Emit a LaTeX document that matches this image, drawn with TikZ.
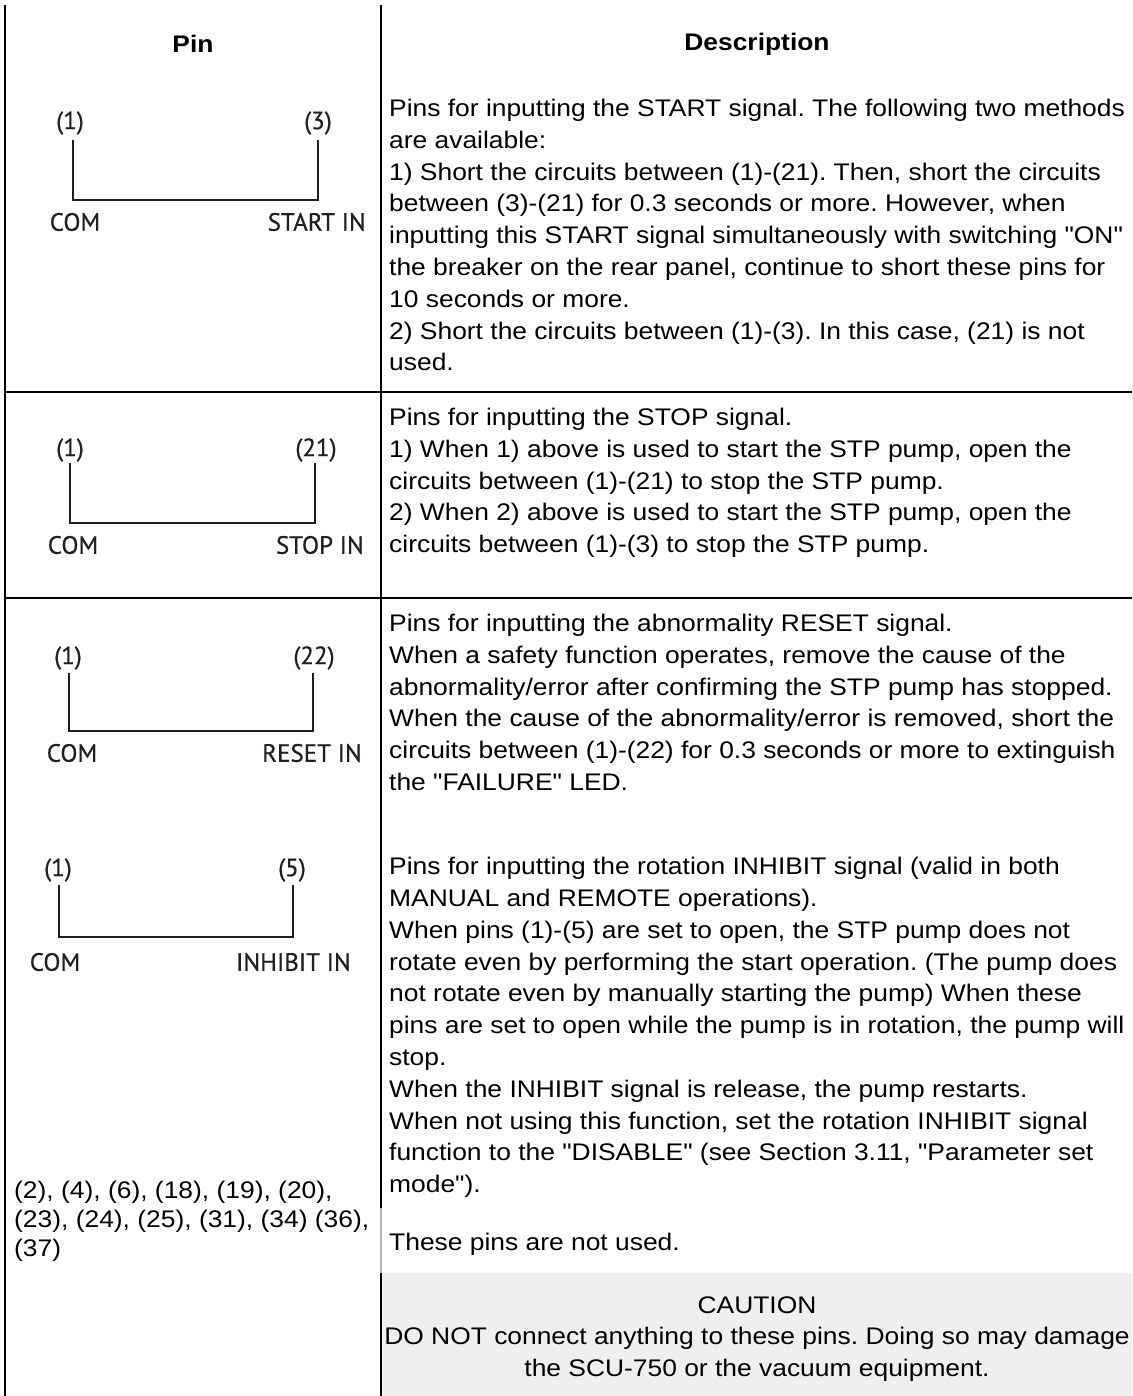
\documentclass[tikz,border=0pt]{standalone}
\usepackage{fontspec}
\setmainfont{Liberation Sans}
\newfontfamily\descfont[FakeStretch=1.1]{Liberation Sans}
\newfontfamily\pinfont[FakeBold=0.6]{PT Sans}
\definecolor{cautionbg}{HTML}{EFEFEF}
\definecolor{ink}{HTML}{231F20}
\frenchspacing
\begin{document}
\begin{tikzpicture}[x=1pt,y=-1pt,
  grid/.style={line width=1.3pt, black},
  wire/.style={line width=2.6pt, ink, line join=miter},
  desc/.style={anchor=north west, inner sep=0pt, align=left, font=\descfont\fontsize{24}{31.8}\selectfont},
  pinlist/.style={anchor=north west, inner sep=0pt, align=left, font=\descfont\fontsize{24}{29}\selectfont},
  head/.style={inner sep=0pt, font=\descfont\bfseries\fontsize{24}{31.8}\selectfont},
  pinlbl/.style={inner sep=0pt, font=\pinfont\fontsize{25}{28}\selectfont, text=ink},
]
\useasboundingbox (0,0) rectangle (1132,1396);
\fill[white] (0,0) rectangle (1132,1396);
\fill[cautionbg] (382,1273) rectangle (1132,1396);

% table rules
\draw[grid] (5,5) -- (5,1396);
\draw[grid] (381,5) -- (381,1208);
\draw[grid, gray!60] (381,1208) -- (381,1273);
\draw[grid] (381,1273) -- (381,1396);
\draw[grid] (5,392) -- (1132,392);
\draw[grid] (5,598) -- (1132,598);

% headers
\node[head] (hpin) at (193,44) {Pin};
\node[head] (hdesc) at (757,44) {Description};

% START
\node[pinlbl] (s1l) at (70,123) {(1)};
\node[pinlbl] (s1r) at (318,123) {(3)};
\coordinate (s1tl) at (73,140); \coordinate (s1bl) at (73,200);
\coordinate (s1br) at (318,200); \coordinate (s1tr) at (318,140);
\draw[wire] (s1tl) -- (s1bl) -- (s1br) -- (s1tr);
\node[pinlbl] (s1c) at (75,222) {COM};
\node[pinlbl, anchor=east] (s1n) at (366,222) {START IN};
\node[desc] (d1) at (389,99) {Pins for inputting the START signal. The following two methods\\
are available:\\
1) Short the circuits between (1)-(21). Then, short the circuits\\
between (3)-(21) for 0.3 seconds or more. However, when\\
inputting this START signal simultaneously with switching "ON"\\
the breaker on the rear panel, continue to short these pins for\\
10 seconds or more.\\
2) Short the circuits between (1)-(3). In this case, (21) is not\\
used.};

% STOP
\node[pinlbl] (s2l) at (70,450) {(1)};
\node[pinlbl] (s2r) at (316,450) {(21)};
\coordinate (s2tl) at (70,463); \coordinate (s2bl) at (70,523);
\coordinate (s2br) at (315,523); \coordinate (s2tr) at (315,463);
\draw[wire] (s2tl) -- (s2bl) -- (s2br) -- (s2tr);
\node[pinlbl] (s2c) at (73,545) {COM};
\node[pinlbl, anchor=east] (s2n) at (364,545) {STOP IN};
\node[desc] (d2) at (389,408) {Pins for inputting the STOP signal.\\
1) When 1) above is used to start the STP pump, open the\\
circuits between (1)-(21) to stop the STP pump.\\
2) When 2) above is used to start the STP pump, open the\\
circuits between (1)-(3) to stop the STP pump.};

% RESET
\node[pinlbl] (s3l) at (68,658) {(1)};
\node[pinlbl] (s3r) at (314,658) {(22)};
\coordinate (s3tl) at (69,673); \coordinate (s3bl) at (69,731);
\coordinate (s3br) at (313,731); \coordinate (s3tr) at (313,673);
\draw[wire] (s3tl) -- (s3bl) -- (s3br) -- (s3tr);
\node[pinlbl] (s3c) at (72,753) {COM};
\node[pinlbl, anchor=east] (s3n) at (362,753) {RESET IN};
\node[desc] (d3) at (389,614) {Pins for inputting the abnormality RESET signal.\\
When a safety function operates, remove the cause of the\\
abnormality/error after confirming the STP pump has stopped.\\
When the cause of the abnormality/error is removed, short the\\
circuits between (1)-(22) for 0.3 seconds or more to extinguish\\
the "FAILURE" LED.};

% INHIBIT
\node[pinlbl] (s4l) at (58,870) {(1)};
\node[pinlbl] (s4r) at (292,870) {(5)};
\coordinate (s4tl) at (59,885); \coordinate (s4bl) at (59,937);
\coordinate (s4br) at (293,937); \coordinate (s4tr) at (293,885);
\draw[wire] (s4tl) -- (s4bl) -- (s4br) -- (s4tr);
\node[pinlbl] (s4c) at (55,962) {COM};
\node[pinlbl, anchor=east] (s4n) at (351,962) {INHIBIT IN};
\node[desc] (d4) at (389,857) {Pins for inputting the rotation INHIBIT signal (valid in both\\
MANUAL and REMOTE operations).\\
When pins (1)-(5) are set to open, the STP pump does not\\
rotate even by performing the start operation. (The pump does\\
not rotate even by manually starting the pump) When these\\
pins are set to open while the pump is in rotation, the pump will\\
stop.\\
When the INHIBIT signal is release, the pump restarts.\\
When not using this function, set the rotation INHIBIT signal\\
function to the "DISABLE" (see Section 3.11, "Parameter set\\
mode").};

% unused pins
\node[pinlist] (p5) at (14,1181) {(2), (4), (6), (18), (19), (20),\\
(23), (24), (25), (31), (34) (36),\\
(37)};
\node[desc] (d5) at (389,1233) {These pins are not used.};
\node[desc, anchor=center, align=center] (caution) at (757,1339) {CAUTION\\
DO NOT connect anything to these pins. Doing so may damage\\
the SCU-750 or the vacuum equipment.};
\end{tikzpicture}
\end{document}
